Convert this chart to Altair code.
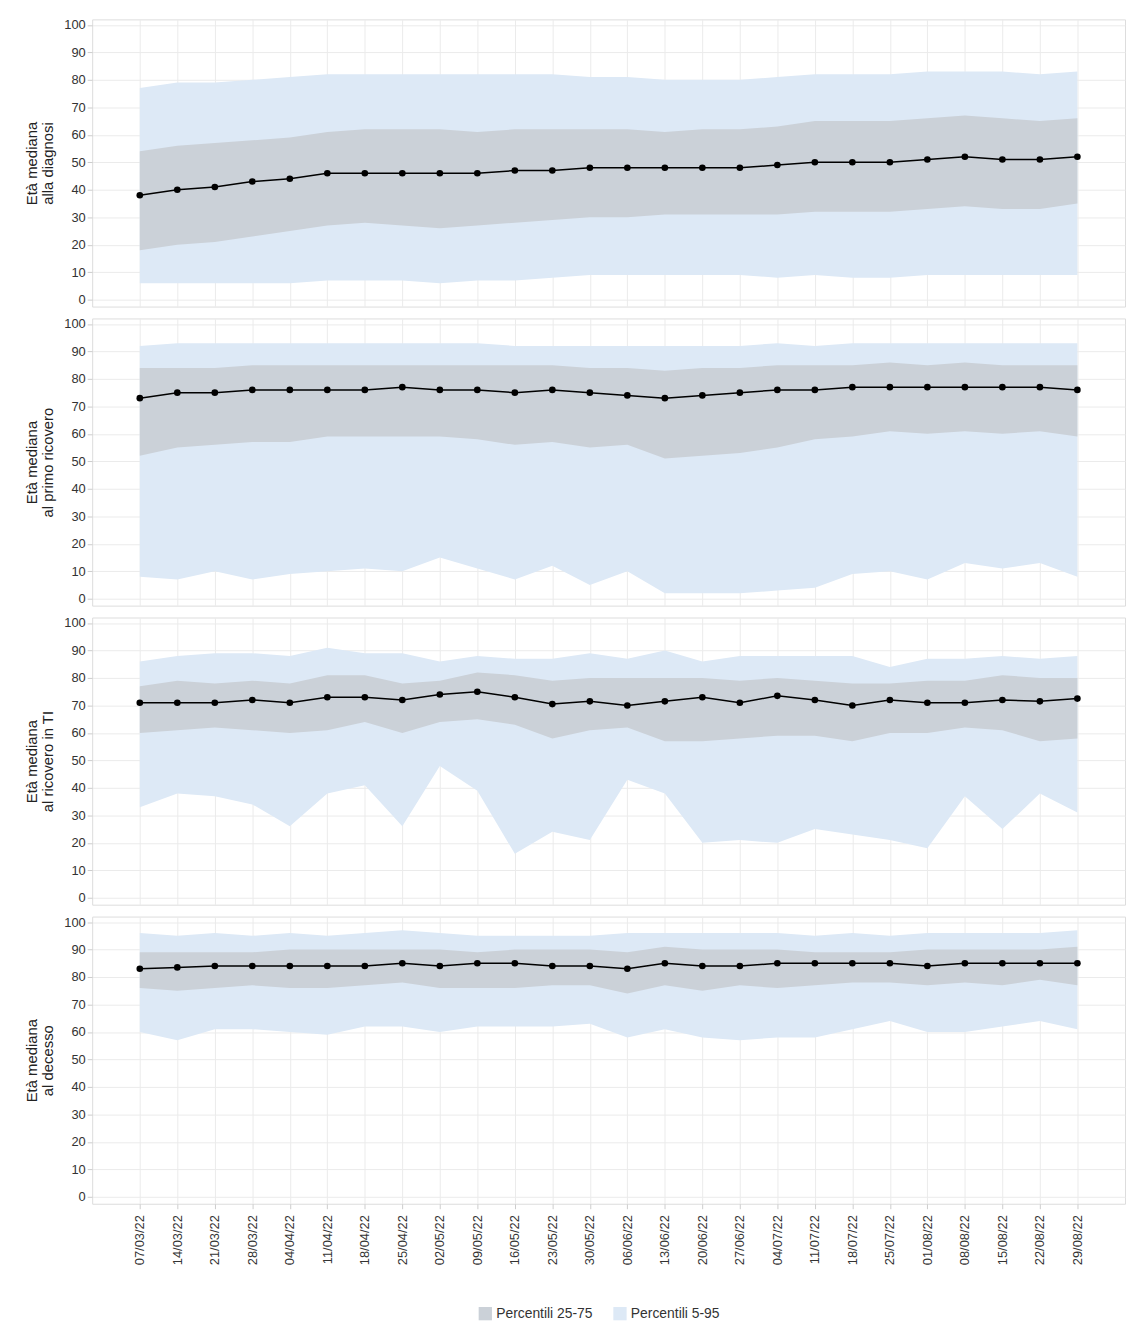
import pandas as pd
import altair as alt
import json

dates = ["07/03/22", "14/03/22", "21/03/22", "28/03/22", "04/04/22", "11/04/22", "18/04/22",
         "25/04/22", "02/05/22", "09/05/22", "16/05/22", "23/05/22", "30/05/22", "06/06/22",
         "13/06/22", "20/06/22", "27/06/22", "04/07/22", "11/07/22", "18/07/22", "25/07/22",
         "01/08/22", "08/08/22", "15/08/22", "22/08/22", "29/08/22"]

diag_med = [38, 40, 41, 43, 44, 46, 46, 46, 46, 46, 47, 47, 48, 48, 48, 48, 48, 49, 50, 50, 50, 51, 52, 51, 51, 52]
diag_p95 = [77, 79, 79, 80, 81, 82, 82, 82, 82, 82, 82, 82, 81, 81, 80, 80, 80, 81, 82, 82, 82, 83, 83, 83, 82, 83]
diag_p75 = [54, 56, 57, 58, 59, 61, 62, 62, 62, 61, 62, 62, 62, 62, 61, 62, 62, 63, 65, 65, 65, 66, 67, 66, 65, 66]
diag_p25 = [18, 20, 21, 23, 25, 27, 28, 27, 26, 27, 28, 29, 30, 30, 31, 31, 31, 31, 32, 32, 32, 33, 34, 33, 33, 35]
diag_p5 = [6, 6, 6, 6, 6, 7, 7, 7, 6, 7, 7, 8, 9, 9, 9, 9, 9, 8, 9, 8, 8, 9, 9, 9, 9, 9]

ric_med = [73, 75, 75, 76, 76, 76, 76, 77, 76, 76, 75, 76, 75, 74, 73, 74, 75, 76, 76, 77, 77, 77, 77, 77, 77, 76]
ric_p95 = [92, 93, 93, 93, 93, 93, 93, 93, 93, 93, 92, 92, 92, 92, 92, 92, 92, 93, 92, 93, 93, 93, 93, 93, 93, 93]
ric_p75 = [84, 84, 84, 85, 85, 85, 85, 85, 85, 85, 85, 85, 84, 84, 83, 84, 84, 85, 85, 85, 86, 85, 86, 85, 85, 85]
ric_p25 = [52, 55, 56, 57, 57, 59, 59, 59, 59, 58, 56, 57, 55, 56, 51, 52, 53, 55, 58, 59, 61, 60, 61, 60, 61, 59]
ric_p5 = [8, 7, 10, 7, 9, 10, 11, 10, 15, 11, 7, 12, 5, 10, 2, 2, 2, 3, 4, 9, 10, 7, 13, 11, 13, 8]

ti_med = [71, 71, 71, 72, 71, 73, 73, 72, 74, 75, 73, 70.5, 71.5, 70, 71.5, 73, 71, 73.5, 72, 70, 72, 71, 71, 72, 71.5, 72.5]
ti_p95 = [86, 88, 89, 89, 88, 91, 89, 89, 86, 88, 87, 87, 89, 87, 90, 86, 88, 88, 88, 88, 84, 87, 87, 88, 87, 88]
ti_p75 = [77, 79, 78, 79, 78, 81, 81, 78, 79, 82, 81, 79, 80, 80, 80, 80, 79, 80, 79, 78, 78, 79, 79, 81, 80, 80]
ti_p25 = [60, 61, 62, 61, 60, 61, 64, 60, 64, 65, 63, 58, 61, 62, 57, 57, 58, 59, 59, 57, 60, 60, 62, 61, 57, 58]
ti_p5 = [33, 38, 37, 34, 26, 38, 41, 26, 48, 39, 16, 24, 21, 43, 38, 20, 21, 20, 25, 23, 21, 18, 37, 25, 38, 31]

dec_med = [83, 83.5, 84, 84, 84, 84, 84, 85, 84, 85, 85, 84, 84, 83, 85, 84, 84, 85, 85, 85, 85, 84, 85, 85, 85, 85]
dec_p95 = [96, 95, 96, 95, 96, 95, 96, 97, 96, 95, 95, 95, 95, 96, 96, 96, 96, 96, 95, 96, 95, 96, 96, 96, 96, 97]
dec_p75 = [89, 89, 89, 89, 90, 90, 90, 90, 90, 89, 90, 90, 90, 89, 91, 90, 90, 90, 89, 89, 89, 90, 90, 90, 90, 91]
dec_p25 = [76, 75, 76, 77, 76, 76, 77, 78, 76, 76, 76, 77, 77, 74, 77, 75, 77, 76, 77, 78, 78, 77, 78, 77, 79, 77]
dec_p5 = [60, 57, 61, 61, 60, 59, 62, 62, 60, 62, 62, 62, 63, 58, 61, 58, 57, 58, 58, 61, 64, 60, 60, 62, 64, 61]

panels = [
    (["Età mediana", "alla diagnosi"], diag_med, diag_p5, diag_p25, diag_p75, diag_p95),
    (["Età mediana", "al primo ricovero"], ric_med, ric_p5, ric_p25, ric_p75, ric_p95),
    (["Età mediana", "al ricovero in TI"], ti_med, ti_p5, ti_p25, ti_p75, ti_p95),
    (["Età mediana", "al decesso"], dec_med, dec_p5, dec_p25, dec_p75, dec_p95),
]

legend_dom = ["Percentili 25-75", "Percentili 5-95"]
legend_rng = ["#cbd1d8", "#dde9f6"]
FONT = "Liberation Sans"
label_expr = json.dumps(dates) + "[round(datum.value)]"


def panel_chart(title, med, p5, p25, p75, p95, last):
    df = pd.DataFrame({"idx": range(len(dates)), "med": med, "p5": p5, "p25": p25, "p75": p75, "p95": p95})
    x = alt.X("idx:Q", title=None,
              scale=alt.Scale(domain=[-1.27, len(dates) - 1 + 1.27], nice=False, zero=False),
              axis=alt.Axis(values=list(range(len(dates))), labelExpr=label_expr, labelAngle=-90,
                            labels=last, ticks=last, labelFontSize=13, labelColor="#333",
                            tickColor="#ccc", domain=False, grid=True, gridColor="#ebebeb",
                            labelPadding=6, labelOverlap=False, labelBaseline="middle",
                            labelAlign="right"))
    yscale = alt.Scale(domain=[-2.5, 102], nice=False, zero=False)
    yaxis = alt.Axis(values=list(range(0, 101, 10)), tickCount=11, labelFontSize=13, labelColor="#333",
                     labelOverlap=False, titleFontSize=15, titleFontWeight="normal",
                     titleColor="#222", domain=False, ticks=True, tickColor="#ccc",
                     grid=True, gridColor="#ebebeb", titlePadding=8)

    def Y(f):
        return alt.Y(f, title=title, scale=yscale, axis=yaxis)

    color = alt.Color("band:N", title=None,
                      scale=alt.Scale(domain=legend_dom, range=legend_rng),
                      legend=alt.Legend(orient="none", legendX=390, legendY=1300, direction="horizontal",
                                        symbolType="square", symbolSize=180, labelFontSize=14,
                                        symbolStrokeWidth=0, labelColor="#333", columnPadding=20))
    base = alt.Chart(df)
    outer = base.mark_area(opacity=1).encode(
        x=x, y=Y("p5:Q"), y2="p95:Q", color=color
    ).transform_calculate(band="'Percentili 5-95'")
    inner = base.mark_area(opacity=1).encode(
        x=x, y=Y("p25:Q"), y2="p75:Q", color=color
    ).transform_calculate(band="'Percentili 25-75'")
    line = base.mark_line(color="black", strokeWidth=1.5).encode(x=x, y=Y("med:Q"))
    pts = base.mark_circle(color="black", size=45, opacity=1).encode(x=x, y=Y("med:Q"))
    return alt.layer(outer, inner, line, pts).properties(width=1043, height=290)


charts = [panel_chart(*p, last=(i == 3)) for i, p in enumerate(panels)]

chart = alt.vconcat(*charts, spacing=10).configure_view(
    stroke="#d0d0d0"
).configure(font=FONT, padding={"left": 15, "top": 4, "right": 0, "bottom": 4})

chart.save("out.html", embed_options={"renderer": "svg", "actions": False})
